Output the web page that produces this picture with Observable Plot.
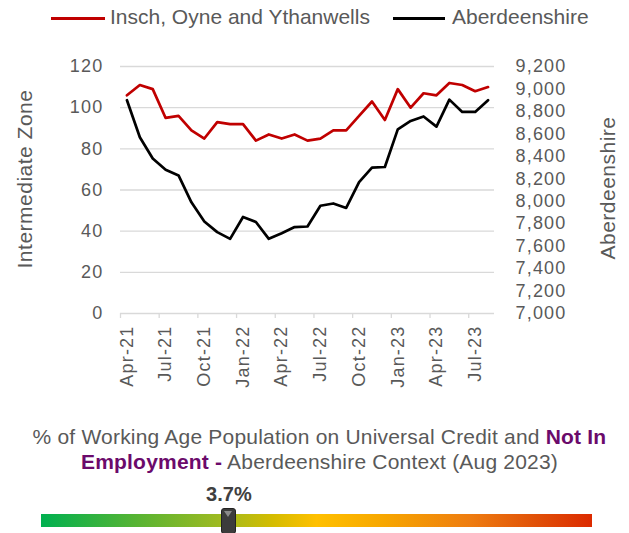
<!DOCTYPE html>
<html>
<head>
<meta charset="utf-8">
<script src="https://cdn.jsdelivr.net/npm/d3@7"></script>
<script src="https://cdn.jsdelivr.net/npm/@observablehq/plot@0.6"></script>
<style>
  html, body { margin: 0; padding: 0; background: #fff; }
  #wrap { position: relative; width: 629px; height: 533px; overflow: hidden;
          font-family: "Liberation Sans", Arial, sans-serif; color: #595959; }
  .leg-line { position: absolute; height: 3px; }
  .leg-text { position: absolute; font-size: 21px; line-height: 22px; white-space: nowrap; }
  #chart { position: absolute; left: 0; top: 34px; }
  .ylab { position: absolute; font-size: 21px; line-height: 21px; letter-spacing: 0.5px; white-space: nowrap;
          transform: translate(-50%, -50%) rotate(-90deg); }
  #title { position: absolute; left: 0; top: 423.5px; width: 629px; text-align: center;
           font-size: 21px; line-height: 25px; letter-spacing: 0.2px; padding-left: 10px; box-sizing: border-box; }
  #title b { color: #6b0a6b; }
  #gaugeBar { position: absolute; left: 41px; top: 514px; width: 551px; height: 13px;
     background: linear-gradient(to right, #00b050 0%, #5ab432 18%, #9cba22 32%, #d4bc00 42%, #ffc000 50%, #f7a700 62%, #ee7c10 78%, #e05008 90%, #dc2a00 100%); }
  #marker { position: absolute; top: 508px; width: 15px; height: 26px; background: #3c3c3c;
     border: 1px solid #222; border-radius: 3px; box-sizing: border-box; }
  #marker::after { content: ""; position: absolute; left: 2px; top: 2px; width: 0; height: 0;
     border-left: 4.5px solid transparent; border-right: 4.5px solid transparent; border-top: 6px solid #8a8a8a; }
  #gaugeLabel { position: absolute; top: 483px; font-size: 20px; line-height: 22px; font-weight: bold; color: #404040;
     transform: translateX(-50%); white-space: nowrap; }
</style>
</head>
<body>
<div id="wrap">
  <div class="leg-line" style="left:51px; top:16.5px; width:54px; background:#c00000;"></div>
  <div class="leg-text" style="left:110px; top:6px;">Insch, Oyne and Ythanwells</div>
  <div class="leg-line" style="left:393px; top:16.5px; width:52px; background:#000;"></div>
  <div class="leg-text" style="left:452px; top:6px;">Aberdeenshire</div>
  <div id="chart"></div>
  <div class="ylab" style="left:24px; top:179px;">Intermediate Zone</div>
  <div class="ylab" style="left:607px; top:188px;">Aberdeenshire</div>
  <div id="title">% of Working Age Population on Universal Credit and <b>Not In<br>Employment -</b> Aberdeenshire Context (Aug 2023)</div>
  <div id="gaugeLabel"></div>
  <div id="gaugeBar"></div>
  <div id="marker"></div>
</div>
<script>
const months = ["Apr-21","May-21","Jun-21","Jul-21","Aug-21","Sep-21","Oct-21","Nov-21","Dec-21",
  "Jan-22","Feb-22","Mar-22","Apr-22","May-22","Jun-22","Jul-22","Aug-22","Sep-22","Oct-22","Nov-22","Dec-22",
  "Jan-23","Feb-23","Mar-23","Apr-23","May-23","Jun-23","Jul-23","Aug-23"];
const inschValues = [106,111,109,95,96,89,85,93,92,92,84,87,85,87,84,85,89,89,96,103,94,109,100,107,106,112,111,108,110];
const aberdeenshireValues = [8900,8570,8380,8280,8230,7990,7820,7725,7665,7860,7815,7665,7715,7770,7775,7960,7980,7940,8170,8300,8305,8640,8715,8755,8665,8905,8795,8795,8900];
const leftTicks = [0,20,40,60,80,100,120];
const rightTicks = [7000,7200,7400,7600,7800,8000,8200,8400,8600,8800,9000,9200];
const xLabelIdx = [0,3,6,9,12,15,18,21,24,27];
const leftDomain = [0,120];
const rightDomain = [7000,9200];
const gaugeValue = 3.7;
const gaugeRange = [0, 10.85];

const toLeft = v => leftDomain[0] + (v - rightDomain[0]) / (rightDomain[1] - rightDomain[0]) * (leftDomain[1] - leftDomain[0]);
const toRight = v => rightDomain[0] + (v - leftDomain[0]) / (leftDomain[1] - leftDomain[0]) * (rightDomain[1] - rightDomain[0]);
const idx = months.map((m, i) => i);
const boundaryTicks = xLabelIdx.map(i => i - 0.5);
const fmt = d3.format(",");

const plot = Plot.plot({
  width: 629, height: 380,
  marginTop: 32, marginBottom: 101, marginLeft: 120, marginRight: 135,
  style: { fontFamily: "'Liberation Sans', Arial, sans-serif", fontSize: "18px", letterSpacing: "1.2px",
           color: "#595959", background: "transparent", overflow: "visible" },
  x: { type: "linear", domain: [-0.5, months.length - 0.5], axis: null },
  y: { domain: leftDomain, axis: null },
  marks: [
    Plot.ruleY(leftTicks, { stroke: "#d9d9d9", strokeWidth: 1.3 }),
    Plot.axisX(boundaryTicks, { tickSize: 5, tickFormat: () => "", stroke: "#d9d9d9", strokeWidth: 1.3, strokeOpacity: 1, label: null }),
    Plot.axisX(xLabelIdx, { tickSize: 0, tickRotate: -90, tickPadding: 12, tickFormat: i => months[i], fill: "#595959", label: null }),
    Plot.axisY(leftTicks, { anchor: "left", tickSize: 0, tickPadding: 17, fill: "#595959", label: null }),
    Plot.axisY(rightTicks.map(toLeft), { anchor: "right", tickSize: 0, tickPadding: 21, fill: "#595959",
      tickFormat: d => fmt(Math.round(toRight(d))), label: null }),
    Plot.line(idx, { x: i => i, y: i => inschValues[i], stroke: "#c00000", strokeWidth: 2.7, strokeLinejoin: "round" }),
    Plot.line(idx, { x: i => i, y: i => toLeft(aberdeenshireValues[i]), stroke: "#000000", strokeWidth: 2.7, strokeLinejoin: "round" })
  ]
});
document.getElementById("chart").appendChild(plot);

const gx = d3.scaleLinear(gaugeRange, [41, 592]);
const mx = gx(gaugeValue);
document.getElementById("marker").style.left = (mx - 7.5) + "px";
const gl = document.getElementById("gaugeLabel");
gl.textContent = gaugeValue.toFixed(1) + "%";
gl.style.left = mx + "px";
</script>
</body>
</html>
